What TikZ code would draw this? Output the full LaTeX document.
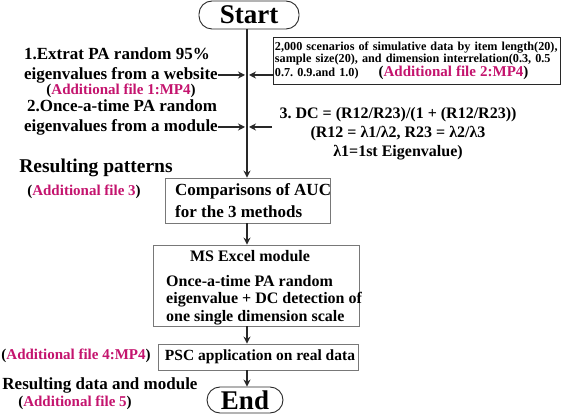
\documentclass[tikz,border=0pt]{standalone}
\usepackage{fontspec}
\setmainfont{Liberation Serif}
\usetikzlibrary{arrows.meta}
\frenchspacing
\definecolor{mag}{RGB}{196,20,110}
\definecolor{ln}{RGB}{40,40,40}
\definecolor{bx}{RGB}{120,120,120}
\tikzset{
  arr/.style={draw=ln,line width=1.3pt,-{Stealth[length=7pt,width=7pt]}},
  term/.style={draw=ln,line width=0.9pt,rounded corners=13pt,font=\fontsize{27}{28}\selectfont\bfseries,inner sep=0pt},
  big/.style={font=\fontsize{17}{18}\selectfont\bfseries,inner sep=0pt},
  mid/.style={font=\fontsize{16}{17}\selectfont\bfseries,inner sep=0pt},
  add/.style={font=\fontsize{15}{16}\selectfont\bfseries,inner sep=0pt},
  gbox/.style={draw=bx,line width=0.8pt,inner sep=0pt},
}
\newcommand{\addf}[1]{(\textcolor{mag}{#1})}
\begin{document}
\begin{tikzpicture}[x=1pt,y=-1pt]
\useasboundingbox (0,0) rectangle (567,419);
\coordinate (spine) at (247,0);
% terminals
\node[term,minimum width=100pt,minimum height=28pt] (start) at (249,15) {Start};
\node[term,minimum width=76pt,minimum height=26pt] (end) at (245,400) {End};
% boxes
\node[gbox,minimum width=165pt,minimum height=45pt] (comp) at (247.5,200.5) {};
\node[mid,anchor=west,align=left,font=\fontsize{17}{22}\selectfont\bfseries] (comptxt) at (175,201) {Comparisons of AUC\\for the 3 methods};
\node[gbox,minimum width=206pt,minimum height=81pt] (ms) at (256,285.5) {};
\node[mid] (mstitle) at (250,256) {MS Excel module};
\node[mid,anchor=west,align=left,font=\fontsize{16}{17.5}\selectfont\bfseries] (mstxt) at (166,300) {Once-a-time PA random\\eigenvalue + DC detection of\\one single dimension scale};
\node[gbox,minimum width=200pt,minimum height=26pt] (psc) at (258,357) {};
\node[mid,font=\fontsize{15.5}{16}\selectfont\bfseries] (psctxt) at (260,357) {PSC application on real data};
% scenario box
\node[draw=ln,line width=0.9pt,anchor=north west,minimum width=287pt,minimum height=47pt,inner xsep=1.5pt,inner ysep=2.5pt,text width=284pt,align=left,font=\fontsize{12.2}{12.3}\selectfont\bfseries] (scen) at (273,37) {\mbox{2,000 scenarios of simulative data by item length(20),}\\\mbox{sample size(20), and dimension interrelation(0.3, 0.5}\\\mbox{0.7. 0.9.and 1.0)\hspace{20pt}{\fontsize{15}{12}\selectfont\addf{Additional file 2:MP4}}}};
% DC text
\node[font=\fontsize{16}{19}\selectfont\bfseries,align=center,inner sep=0pt] (dc) at (398,134) {3. DC = (R12/R23)/(1 + (R12/R23))\\(R12 = λ1/λ2, R23 = λ2/λ3\\λ1=1st Eigenvalue)};
\coordinate (dcin) at (272,127);
% left texts
\node[big] (l1) at (117,54) {1.Extrat PA random 95\%};
\node[big,anchor=east] (w1) at (218,75) {eigenvalues from a website};
\node[add] (a1) at (121,91) {\addf{Additional file 1:MP4}};
\node[big] (l2) at (122,106) {2.Once-a-time PA random};
\node[big,anchor=east] (w2) at (218,127) {eigenvalues from a module};
\node[font=\fontsize{19.5}{20}\selectfont\bfseries,inner sep=0pt] (rp) at (96,168) {Resulting patterns};
\node[add] (a3) at (84,192) {\addf{Additional file 3}};
\node[add] (a4) at (76,356) {\addf{Additional file 4:MP4}};
\node[font=\fontsize{17}{18}\selectfont\bfseries,inner sep=0pt] (rd) at (100,385) {Resulting data and module};
\node[add] (a5) at (75,403) {\addf{Additional file 5}};
% spine
\draw[arr] (start.south -| spine) -- (comp.north -| spine);
\draw[arr] (comp.south -| spine) -- (ms.north -| spine);
\draw[arr] (ms.south -| spine) -- (psc.north -| spine);
\draw[arr] (psc.south -| spine) -- (end.north -| spine);
% side arrows
\draw[arr] (w1.east) -- ([xshift=-2pt]w1.east -| spine);
\draw[arr] (scen.west |- w1.east) -- ([xshift=2pt]w1.east -| spine);
\draw[arr] (w2.east) -- ([xshift=-2pt]w2.east -| spine);
\draw[arr] (dcin) -- ([xshift=2pt]dcin -| spine);
\end{tikzpicture}
\end{document}
